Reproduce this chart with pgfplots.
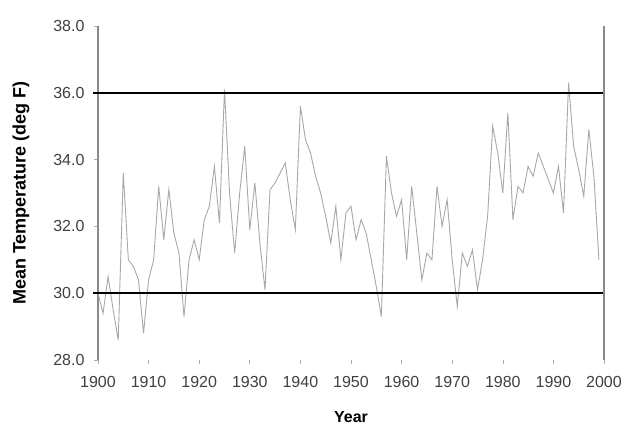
\documentclass[border=0pt]{standalone}
\usepackage{fontspec}
\setmainfont{Liberation Sans}
\usepackage{pgfplots}
\pgfplotsset{compat=1.18}
\usepackage{pgfplotstable}

% annual mean temperature
\pgfplotstableread{
year temp
1900 30.0
1901 29.4
1902 30.5
1903 29.5
1904 28.6
1905 33.6
1906 31.0
1907 30.8
1908 30.4
1909 28.8
1910 30.4
1911 31.0
1912 33.2
1913 31.6
1914 33.1
1915 31.8
1916 31.2
1917 29.3
1918 31.0
1919 31.6
1920 31.0
1921 32.2
1922 32.6
1923 33.8
1924 32.1
1925 36.1
1926 33.0
1927 31.2
1928 33.0
1929 34.4
1930 31.9
1931 33.3
1932 31.5
1933 30.1
1934 33.1
1935 33.3
1936 33.6
1937 33.9
1938 32.8
1939 31.9
1940 35.6
1941 34.6
1942 34.2
1943 33.5
1944 33.0
1945 32.3
1946 31.5
1947 32.6
1948 31.0
1949 32.4
1950 32.6
1951 31.6
1952 32.2
1953 31.8
1954 31.0
1955 30.2
1956 29.3
1957 34.1
1958 33.0
1959 32.3
1960 32.8
1961 31.0
1962 33.2
1963 31.8
1964 30.4
1965 31.2
1966 31.0
1967 33.2
1968 32.0
1969 32.8
1970 31.0
1971 29.6
1972 31.2
1973 30.8
1974 31.3
1975 30.1
1976 31.0
1977 32.3
1978 35.0
1979 34.2
1980 33.0
1981 35.4
1982 32.2
1983 33.2
1984 33.0
1985 33.8
1986 33.5
1987 34.2
1988 33.8
1989 33.4
1990 33.0
1991 33.8
1992 32.4
1993 36.3
1994 34.4
1995 33.7
1996 32.9
1997 34.9
1998 33.5
1999 31.0
}\temps

\definecolor{series}{HTML}{A8A8A8}
\definecolor{axisgray}{HTML}{8A8A8A}
\definecolor{ticktext}{HTML}{404040}

\begin{document}
\begin{tikzpicture}
\path[use as bounding box] (-98pt,-67pt) rectangle (526pt,360pt);
\begin{axis}[
  scale only axis,
  width=506pt, height=334pt,
  xmin=1900, xmax=2000,
  ymin=28, ymax=38,
  xtick={1900,1910,...,2000},
  ytick={28,30,...,38},
  axis x line*=bottom,
  axis y line*=left,
  x axis line style={draw=none},
  y axis line style={axisgray, line width=1.3pt, -},
  tick align=outside,
  major tick length=4pt,
  tick style={axisgray!70, line width=0.6pt},
  /pgf/number format/assume math mode=true,
  yticklabel style={xshift=-6pt,
    /pgf/number format/fixed, /pgf/number format/fixed zerofill,
    /pgf/number format/precision=1},
  xticklabel style={yshift=-9pt, /pgf/number format/1000 sep={}},
  ticklabel style={font=\fontsize{16}{18}\selectfont, text=ticktext},
  xlabel={Year},
  ylabel={Mean Temperature (deg F)},
  xlabel style={font=\bfseries\fontsize{16}{18}\selectfont,
    at={(axis description cs:0.5,-0.172)}, anchor=center},
  ylabel style={font=\bfseries\fontsize{18}{20}\selectfont,
    at={(axis description cs:-0.152,0.5)}, anchor=center},
  clip=false,
]
\addplot[series, line width=0.9pt] table[x=year, y=temp] {\temps};
\addplot[black, line width=1.8pt] coordinates {(1899,30) (2000,30)};
\addplot[black, line width=1.8pt] coordinates {(1899,36) (2000,36)};
\addplot[axisgray, line width=1.5pt] coordinates {(2000,28) (2000,38)};
\end{axis}
\end{tikzpicture}
\end{document}
